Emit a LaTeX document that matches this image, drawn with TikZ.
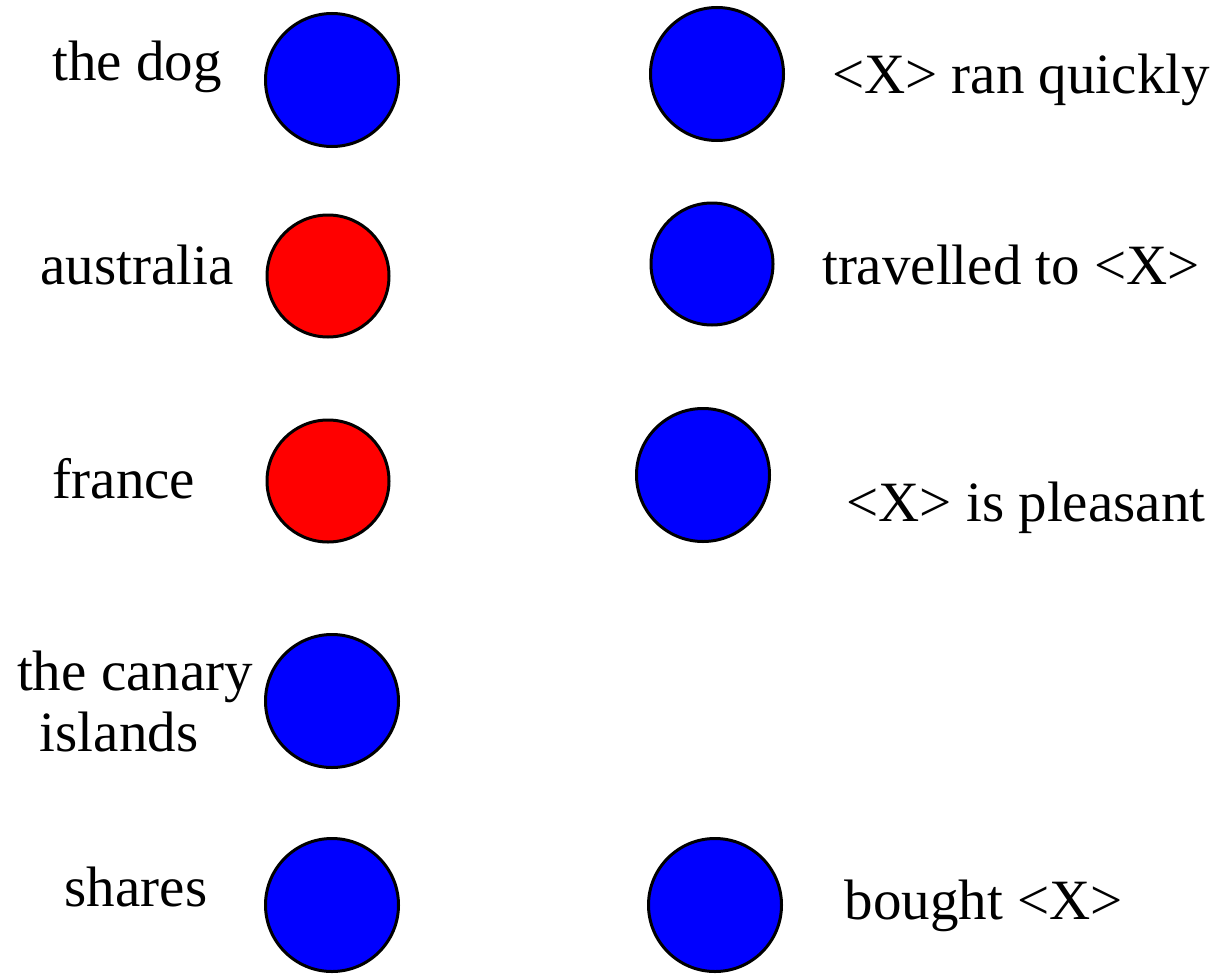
\documentclass[tikz,border=0pt]{standalone}
\usepackage{fontspec}
\setmainfont{Liberation Serif}
\begin{document}
\begin{tikzpicture}[x=1pt,y=-1pt,
  dot/.style={circle,draw=black,line width=3pt,inner sep=0pt},
  bigdot/.style={dot,minimum size=133pt},
  smalldot/.style={dot,minimum size=122pt},
  lbl/.style={font=\fontsize{57}{62}\selectfont,inner sep=0pt,anchor=base}]
\useasboundingbox (0,0) rectangle (1220,974);
% left column
\node[bigdot,fill=blue] (dog) at (332,80) {};
\node[smalldot,fill=red] (aus) at (328,276) {};
\node[smalldot,fill=red] (fra) at (328,481) {};
\node[bigdot,fill=blue] (can) at (332,701) {};
\node[bigdot,fill=blue] (sha) at (332,905) {};
% right column
\node[bigdot,fill=blue] (ran) at (717,74) {};
\node[smalldot,fill=blue] (tra) at (712,264) {};
\node[bigdot,fill=blue] (ple) at (703,475) {};
\node[bigdot,fill=blue] (bou) at (715,905) {};
% labels
\node[lbl] (tdog) at (137,80) {the dog};
\node[lbl] (taus) at (137,284) {australia};
\node[lbl] (tfra) at (124,498) {france};
\node[lbl] (tcan1) at (135,690) {the canary};
\node[lbl] (tcan2) at (119,751) {islands};
\node[lbl] (tsha) at (136,906) {shares};
\node[lbl] (tran) at (1021,93) {<X> ran quickly};
\node[lbl] (ttra) at (1011,284) {travelled to <X>};
\node[lbl] (tple) at (1026,521) {<X> is pleasant};
\node[lbl] (tbou) at (984,919) {bought <X>};
\end{tikzpicture}
\end{document}
